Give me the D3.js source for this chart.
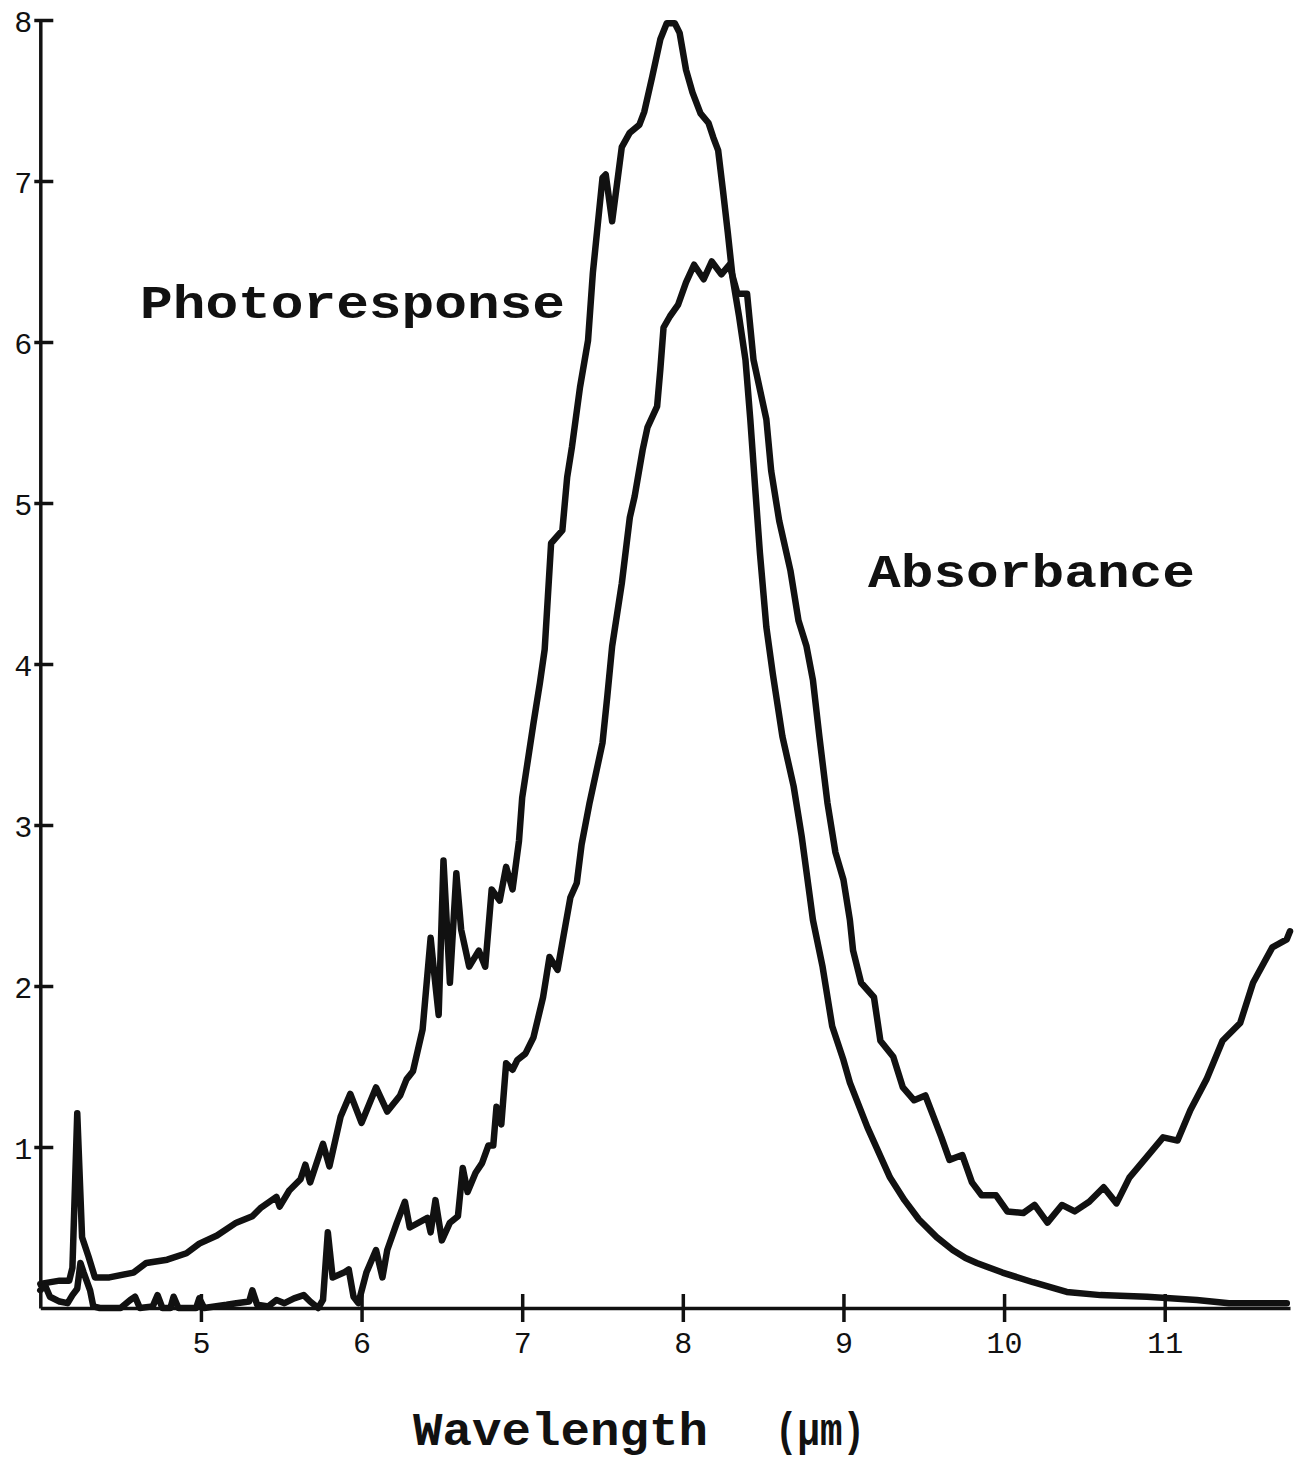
<!DOCTYPE html>
<html>
<head>
<meta charset="utf-8">
<script src="https://cdn.jsdelivr.net/npm/d3@7"></script>
<style>
    body { margin: 0; background: #fff; }
    .tick-label { font-family: 'Courier New', Courier, 'Liberation Mono', monospace; font-size: 30px; fill: #111; }
    .chart_text { font-family: 'Courier New', Courier, 'Liberation Mono', monospace; font-weight: bold; font-size: 46px; fill: #111; }
</style>
</head>
<body>
<div id="chart"></div>
<script>
// --- data: [wavelength (um), value] ---
const photoresponse = [
    [4.00,0.15],[4.12,0.17],[4.18,0.17],[4.20,0.25],[4.23,1.21],[4.26,0.44],[4.30,0.32],[4.34,0.19],
    [4.43,0.19],[4.58,0.22],[4.66,0.28],[4.79,0.30],[4.91,0.34],[4.99,0.40],[5.10,0.45],[5.22,0.53],
    [5.32,0.57],[5.37,0.62],[5.47,0.69],[5.49,0.63],[5.55,0.73],[5.62,0.80],[5.65,0.89],[5.68,0.78],
    [5.76,1.02],[5.80,0.88],[5.87,1.19],[5.93,1.33],[6.00,1.15],[6.09,1.37],[6.16,1.22],[6.24,1.32],
    [6.28,1.42],[6.32,1.47],[6.38,1.73],[6.43,2.30],[6.45,2.10],[6.48,1.82],[6.51,2.78],[6.55,2.02],
    [6.59,2.70],[6.62,2.35],[6.67,2.12],[6.73,2.22],[6.77,2.12],[6.81,2.60],[6.86,2.53],[6.90,2.74],
    [6.94,2.60],[6.98,2.90],[7.00,3.17],[7.07,3.63],[7.11,3.88],[7.14,4.09],[7.16,4.42],[7.18,4.75],
    [7.25,4.83],[7.28,5.16],[7.31,5.35],[7.36,5.72],[7.41,6.01],[7.44,6.43],[7.50,7.02],[7.52,7.04],
    [7.56,6.75],[7.62,7.21],[7.67,7.30],[7.73,7.35],[7.76,7.43],[7.81,7.65],[7.86,7.88],[7.90,7.98],
    [7.95,7.98],[7.98,7.92],[8.02,7.69],[8.06,7.55],[8.11,7.42],[8.16,7.36],[8.19,7.27],[8.22,7.19],
    [8.25,6.94],[8.28,6.68],[8.31,6.40],[8.35,6.16],[8.39,5.89],[8.42,5.52],[8.45,5.10],[8.48,4.69],
    [8.52,4.23],[8.56,3.94],[8.62,3.55],[8.69,3.24],[8.74,2.93],[8.79,2.56],[8.81,2.41],[8.87,2.12],
    [8.93,1.75],[9.00,1.54],[9.04,1.40],[9.15,1.12],[9.29,0.81],[9.38,0.67],[9.47,0.55],[9.58,0.44],
    [9.68,0.36],[9.76,0.31],[9.83,0.28],[9.99,0.22],[10.18,0.16],[10.39,0.10],[10.60,0.08],[10.89,0.07],
    [11.20,0.05],[11.40,0.03],[11.76,0.03]
];

const absorbance = [
    [4.00,0.11],[4.03,0.14],[4.06,0.07],[4.12,0.04],[4.17,0.03],[4.20,0.08],[4.23,0.12],[4.25,0.28],
    [4.27,0.22],[4.31,0.11],[4.33,0.01],[4.37,0.00],[4.50,0.00],[4.56,0.05],[4.59,0.07],[4.62,0.00],
    [4.70,0.01],[4.73,0.08],[4.76,0.00],[4.81,0.00],[4.83,0.07],[4.86,0.00],[4.97,0.00],[4.99,0.06],
    [5.02,0.00],[5.16,0.02],[5.22,0.03],[5.30,0.04],[5.32,0.11],[5.35,0.02],[5.42,0.01],[5.47,0.05],
    [5.52,0.03],[5.58,0.06],[5.64,0.08],[5.68,0.04],[5.73,0.00],[5.76,0.05],[5.79,0.47],[5.82,0.19],
    [5.89,0.22],[5.92,0.24],[5.95,0.07],[5.98,0.03],[6.03,0.22],[6.09,0.36],[6.13,0.19],[6.16,0.36],
    [6.22,0.53],[6.27,0.66],[6.30,0.50],[6.41,0.56],[6.43,0.47],[6.46,0.67],[6.50,0.42],[6.55,0.53],
    [6.60,0.57],[6.63,0.87],[6.66,0.72],[6.71,0.84],[6.75,0.90],[6.79,1.01],[6.82,1.01],[6.84,1.25],
    [6.87,1.14],[6.90,1.52],[6.94,1.48],[6.97,1.54],[7.02,1.58],[7.07,1.68],[7.13,1.93],[7.17,2.18],
    [7.22,2.10],[7.25,2.27],[7.30,2.55],[7.34,2.64],[7.37,2.88],[7.42,3.14],[7.50,3.51],[7.53,3.80],
    [7.56,4.11],[7.62,4.50],[7.67,4.91],[7.70,5.04],[7.75,5.33],[7.78,5.47],[7.84,5.60],[7.86,5.83],
    [7.88,6.09],[7.92,6.16],[7.97,6.23],[8.02,6.37],[8.07,6.48],[8.13,6.39],[8.18,6.50],[8.24,6.42],
    [8.29,6.48],[8.34,6.30],[8.40,6.30],[8.44,5.89],[8.52,5.52],[8.55,5.20],[8.60,4.89],[8.67,4.58],
    [8.72,4.27],[8.77,4.11],[8.81,3.90],[8.85,3.55],[8.90,3.14],[8.95,2.83],[9.00,2.66],[9.04,2.41],
    [9.06,2.22],[9.11,2.02],[9.19,1.93],[9.23,1.66],[9.31,1.56],[9.37,1.37],[9.44,1.29],[9.51,1.32],
    [9.56,1.19],[9.61,1.06],[9.66,0.92],[9.74,0.95],[9.80,0.78],[9.86,0.70],[9.95,0.70],[10.02,0.60],
    [10.12,0.59],[10.19,0.64],[10.27,0.53],[10.36,0.64],[10.44,0.60],[10.53,0.66],[10.62,0.75],[10.70,0.65],
    [10.78,0.81],[10.89,0.94],[10.99,1.06],[11.08,1.04],[11.16,1.23],[11.26,1.42],[11.36,1.66],[11.47,1.77],
    [11.55,2.02],[11.67,2.24],[11.76,2.29],[11.78,2.34]
];

const xTicks = [5, 6, 7, 8, 9, 10, 11];
const yTicks = [1, 2, 3, 4, 5, 6, 7, 8];
const xDomain = [4, 11.78];
const yDomain = [0, 8];

// figure dimensions
const width = 1301, height = 1473;
const plot = {left: 40.3, right: 1290, top: 20, bottom: 1308};

const svg = d3.select('#chart')
    .append('svg')
    .attr('width', width)
    .attr('height', height);

const scaleX = d3.scaleLinear(xDomain, [plot.left, plot.right]);
const scaleY = d3.scaleLinear(yDomain, [plot.bottom, plot.top]);

// axes - ticks cross the axis line on both sides
const axisX = svg.append('g')
    .attr('transform', `translate(0,${plot.bottom})`)
    .call(d3.axisBottom(scaleX).tickValues(xTicks).tickSizeOuter(0).tickPadding(0));
axisX.selectAll('.tick line').attr('y1', -14).attr('y2', 14);
axisX.selectAll('.tick text')
    .attr('class', 'tick-label')
    .attr('y', 45)
    .attr('dy', null);

const axisY = svg.append('g')
    .attr('transform', `translate(${plot.left},0)`)
    .call(d3.axisLeft(scaleY).tickValues(yTicks).tickSizeOuter(0).tickPadding(0));
axisY.selectAll('.tick line').attr('x1', -6).attr('x2', 13);
axisY.selectAll('.tick text')
    .attr('class', 'tick-label')
    .attr('x', -8)
    .attr('dy', '0.38em');

svg.selectAll('.domain, .tick line')
    .attr('stroke', '#111')
    .attr('stroke-width', 3.5);

// curves
const line = d3.line()
    .x(d => scaleX(d[0]))
    .y(d => scaleY(d[1]));

svg.append('g')
    .selectAll('path.curve')
    .data([photoresponse, absorbance])
    .join('path')
    .classed('curve', true)
    .attr('d', line)
    .attr('fill', 'none')
    .attr('stroke', '#111')
    .attr('stroke-width', 6.5)
    .attr('stroke-linejoin', 'round')
    .attr('stroke-linecap', 'round');

// labels
svg.append('text')
    .classed('chart_text', true)
    .attr('x', 140).attr('y', 318)
    .attr('textLength', 425).attr('lengthAdjust', 'spacingAndGlyphs')
    .text('Photoresponse');

svg.append('text')
    .classed('chart_text', true)
    .attr('x', 868).attr('y', 587)
    .attr('textLength', 327).attr('lengthAdjust', 'spacingAndGlyphs')
    .text('Absorbance');

svg.append('text')
    .classed('chart_text', true)
    .attr('x', 413).attr('y', 1445)
    .attr('textLength', 295).attr('lengthAdjust', 'spacingAndGlyphs')
    .text('Wavelength');

svg.append('text')
    .classed('chart_text', true)
    .attr('x', 775).attr('y', 1445)
    .attr('textLength', 90).attr('lengthAdjust', 'spacingAndGlyphs')
    .text('(µm)');
</script>
</body>
</html>
